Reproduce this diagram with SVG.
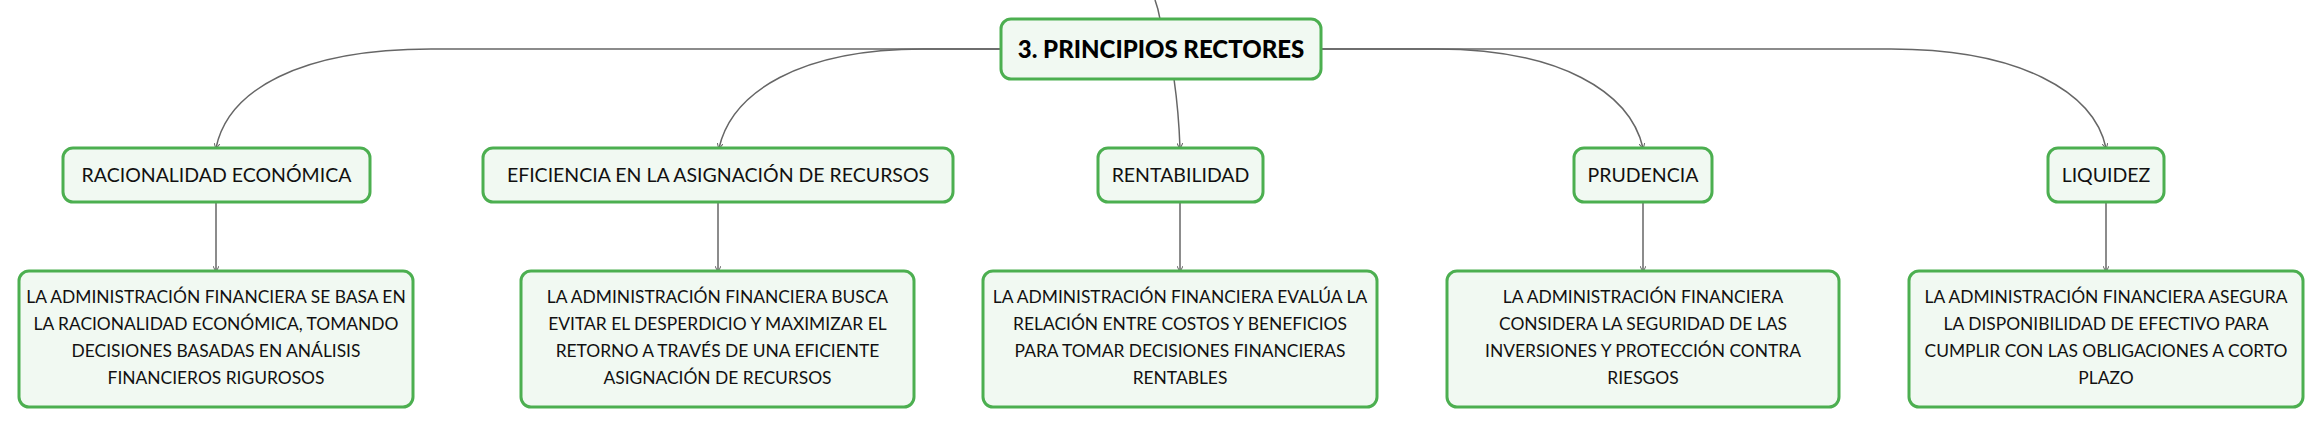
<svg xmlns="http://www.w3.org/2000/svg" width="2323" height="426" viewBox="0 0 2323 426">
<style>
.box{fill:#f1f9f2;stroke:#4caf50;stroke-width:3}
.lbl{font-family:Lato,"Noto Sans",sans-serif;font-size:19.5px;fill:#111;text-anchor:middle}
.det{font-family:Lato,"Noto Sans",sans-serif;font-size:17.4px;fill:#111;text-anchor:middle}
.root{font-family:Lato,"Noto Sans",sans-serif;font-size:24px;font-weight:900;fill:#000;text-anchor:middle}
.con{fill:none;stroke:#666;stroke-width:1.5}
</style>
<defs>
<marker id="arr" viewBox="0 0 6 6" refX="5" refY="3" markerWidth="4" markerHeight="4" orient="auto">
<path d="M0,0 L6,3 L0,6" fill="none" stroke="#666" stroke-width="1"/>
</marker>
</defs>
<rect width="2323" height="426" fill="#fff"/>
<g id="connectors">
<path class="con" d="M1155,0 C1158,8 1159,13 1160,19"/>
<path class="con" marker-end="url(#arr)" d="M1001,49 L431,49 C300,49 228,90 216,148"/>
<path class="con" marker-end="url(#arr)" d="M1001,49 L923,49 C800,49 732,92 719,148"/>
<path class="con" marker-end="url(#arr)" d="M1174,79 C1177,100 1179,120 1180,148"/>
<path class="con" marker-end="url(#arr)" d="M1321,49 L1436,49 C1560,49 1630,92 1643,148"/>
<path class="con" marker-end="url(#arr)" d="M1321,49 L1891,49 C2020,49 2094,92 2106,148"/>
<path class="con" marker-end="url(#arr)" d="M216,202 L216,271"/>
<path class="con" marker-end="url(#arr)" d="M718,202 L718,271"/>
<path class="con" marker-end="url(#arr)" d="M1180,202 L1180,271"/>
<path class="con" marker-end="url(#arr)" d="M1643,202 L1643,271"/>
<path class="con" marker-end="url(#arr)" d="M2106,202 L2106,271"/>
</g>
<g id="root">
<rect class="box" x="1001" y="19" width="320" height="60" rx="10"/>
<text class="root" x="1161" y="58">3. PRINCIPIOS RECTORES</text>
</g>
<g id="racionalidad">
<rect class="box" x="63" y="148" width="307" height="54" rx="10"/>
<text class="lbl" x="216.5" y="182">RACIONALIDAD ECONÓMICA</text>
</g>
<g id="eficiencia">
<rect class="box" x="483" y="148" width="470" height="54" rx="10"/>
<text class="lbl" x="718" y="182">EFICIENCIA EN LA ASIGNACIÓN DE RECURSOS</text>
</g>
<g id="rentabilidad">
<rect class="box" x="1098" y="148" width="165" height="54" rx="10"/>
<text class="lbl" x="1180.5" y="182">RENTABILIDAD</text>
</g>
<g id="prudencia">
<rect class="box" x="1574" y="148" width="138" height="54" rx="10"/>
<text class="lbl" x="1643" y="182">PRUDENCIA</text>
</g>
<g id="liquidez">
<rect class="box" x="2048" y="148" width="116" height="54" rx="10"/>
<text class="lbl" x="2106" y="182">LIQUIDEZ</text>
</g>
<g id="det-racionalidad">
<rect class="box" x="19" y="271" width="394" height="136" rx="10"/>
<text class="det" x="216" y="303">LA ADMINISTRACIÓN FINANCIERA SE BASA EN</text>
<text class="det" x="216" y="330">LA RACIONALIDAD ECONÓMICA, TOMANDO</text>
<text class="det" x="216" y="357">DECISIONES BASADAS EN ANÁLISIS</text>
<text class="det" x="216" y="384">FINANCIEROS RIGUROSOS</text>
</g>
<g id="det-eficiencia">
<rect class="box" x="521" y="271" width="393" height="136" rx="10"/>
<text class="det" x="717.5" y="303">LA ADMINISTRACIÓN FINANCIERA BUSCA</text>
<text class="det" x="717.5" y="330">EVITAR EL DESPERDICIO Y MAXIMIZAR EL</text>
<text class="det" x="717.5" y="357">RETORNO A TRAVÉS DE UNA EFICIENTE</text>
<text class="det" x="717.5" y="384">ASIGNACIÓN DE RECURSOS</text>
</g>
<g id="det-rentabilidad">
<rect class="box" x="983" y="271" width="394" height="136" rx="10"/>
<text class="det" x="1180" y="303">LA ADMINISTRACIÓN FINANCIERA EVALÚA LA</text>
<text class="det" x="1180" y="330">RELACIÓN ENTRE COSTOS Y BENEFICIOS</text>
<text class="det" x="1180" y="357">PARA TOMAR DECISIONES FINANCIERAS</text>
<text class="det" x="1180" y="384">RENTABLES</text>
</g>
<g id="det-prudencia">
<rect class="box" x="1447" y="271" width="392" height="136" rx="10"/>
<text class="det" x="1643" y="303">LA ADMINISTRACIÓN FINANCIERA</text>
<text class="det" x="1643" y="330">CONSIDERA LA SEGURIDAD DE LAS</text>
<text class="det" x="1643" y="357">INVERSIONES Y PROTECCIÓN CONTRA</text>
<text class="det" x="1643" y="384">RIESGOS</text>
</g>
<g id="det-liquidez">
<rect class="box" x="1909" y="271" width="394" height="136" rx="10"/>
<text class="det" x="2106" y="303">LA ADMINISTRACIÓN FINANCIERA ASEGURA</text>
<text class="det" x="2106" y="330">LA DISPONIBILIDAD DE EFECTIVO PARA</text>
<text class="det" x="2106" y="357">CUMPLIR CON LAS OBLIGACIONES A CORTO</text>
<text class="det" x="2106" y="384">PLAZO</text>
</g>
</svg>
